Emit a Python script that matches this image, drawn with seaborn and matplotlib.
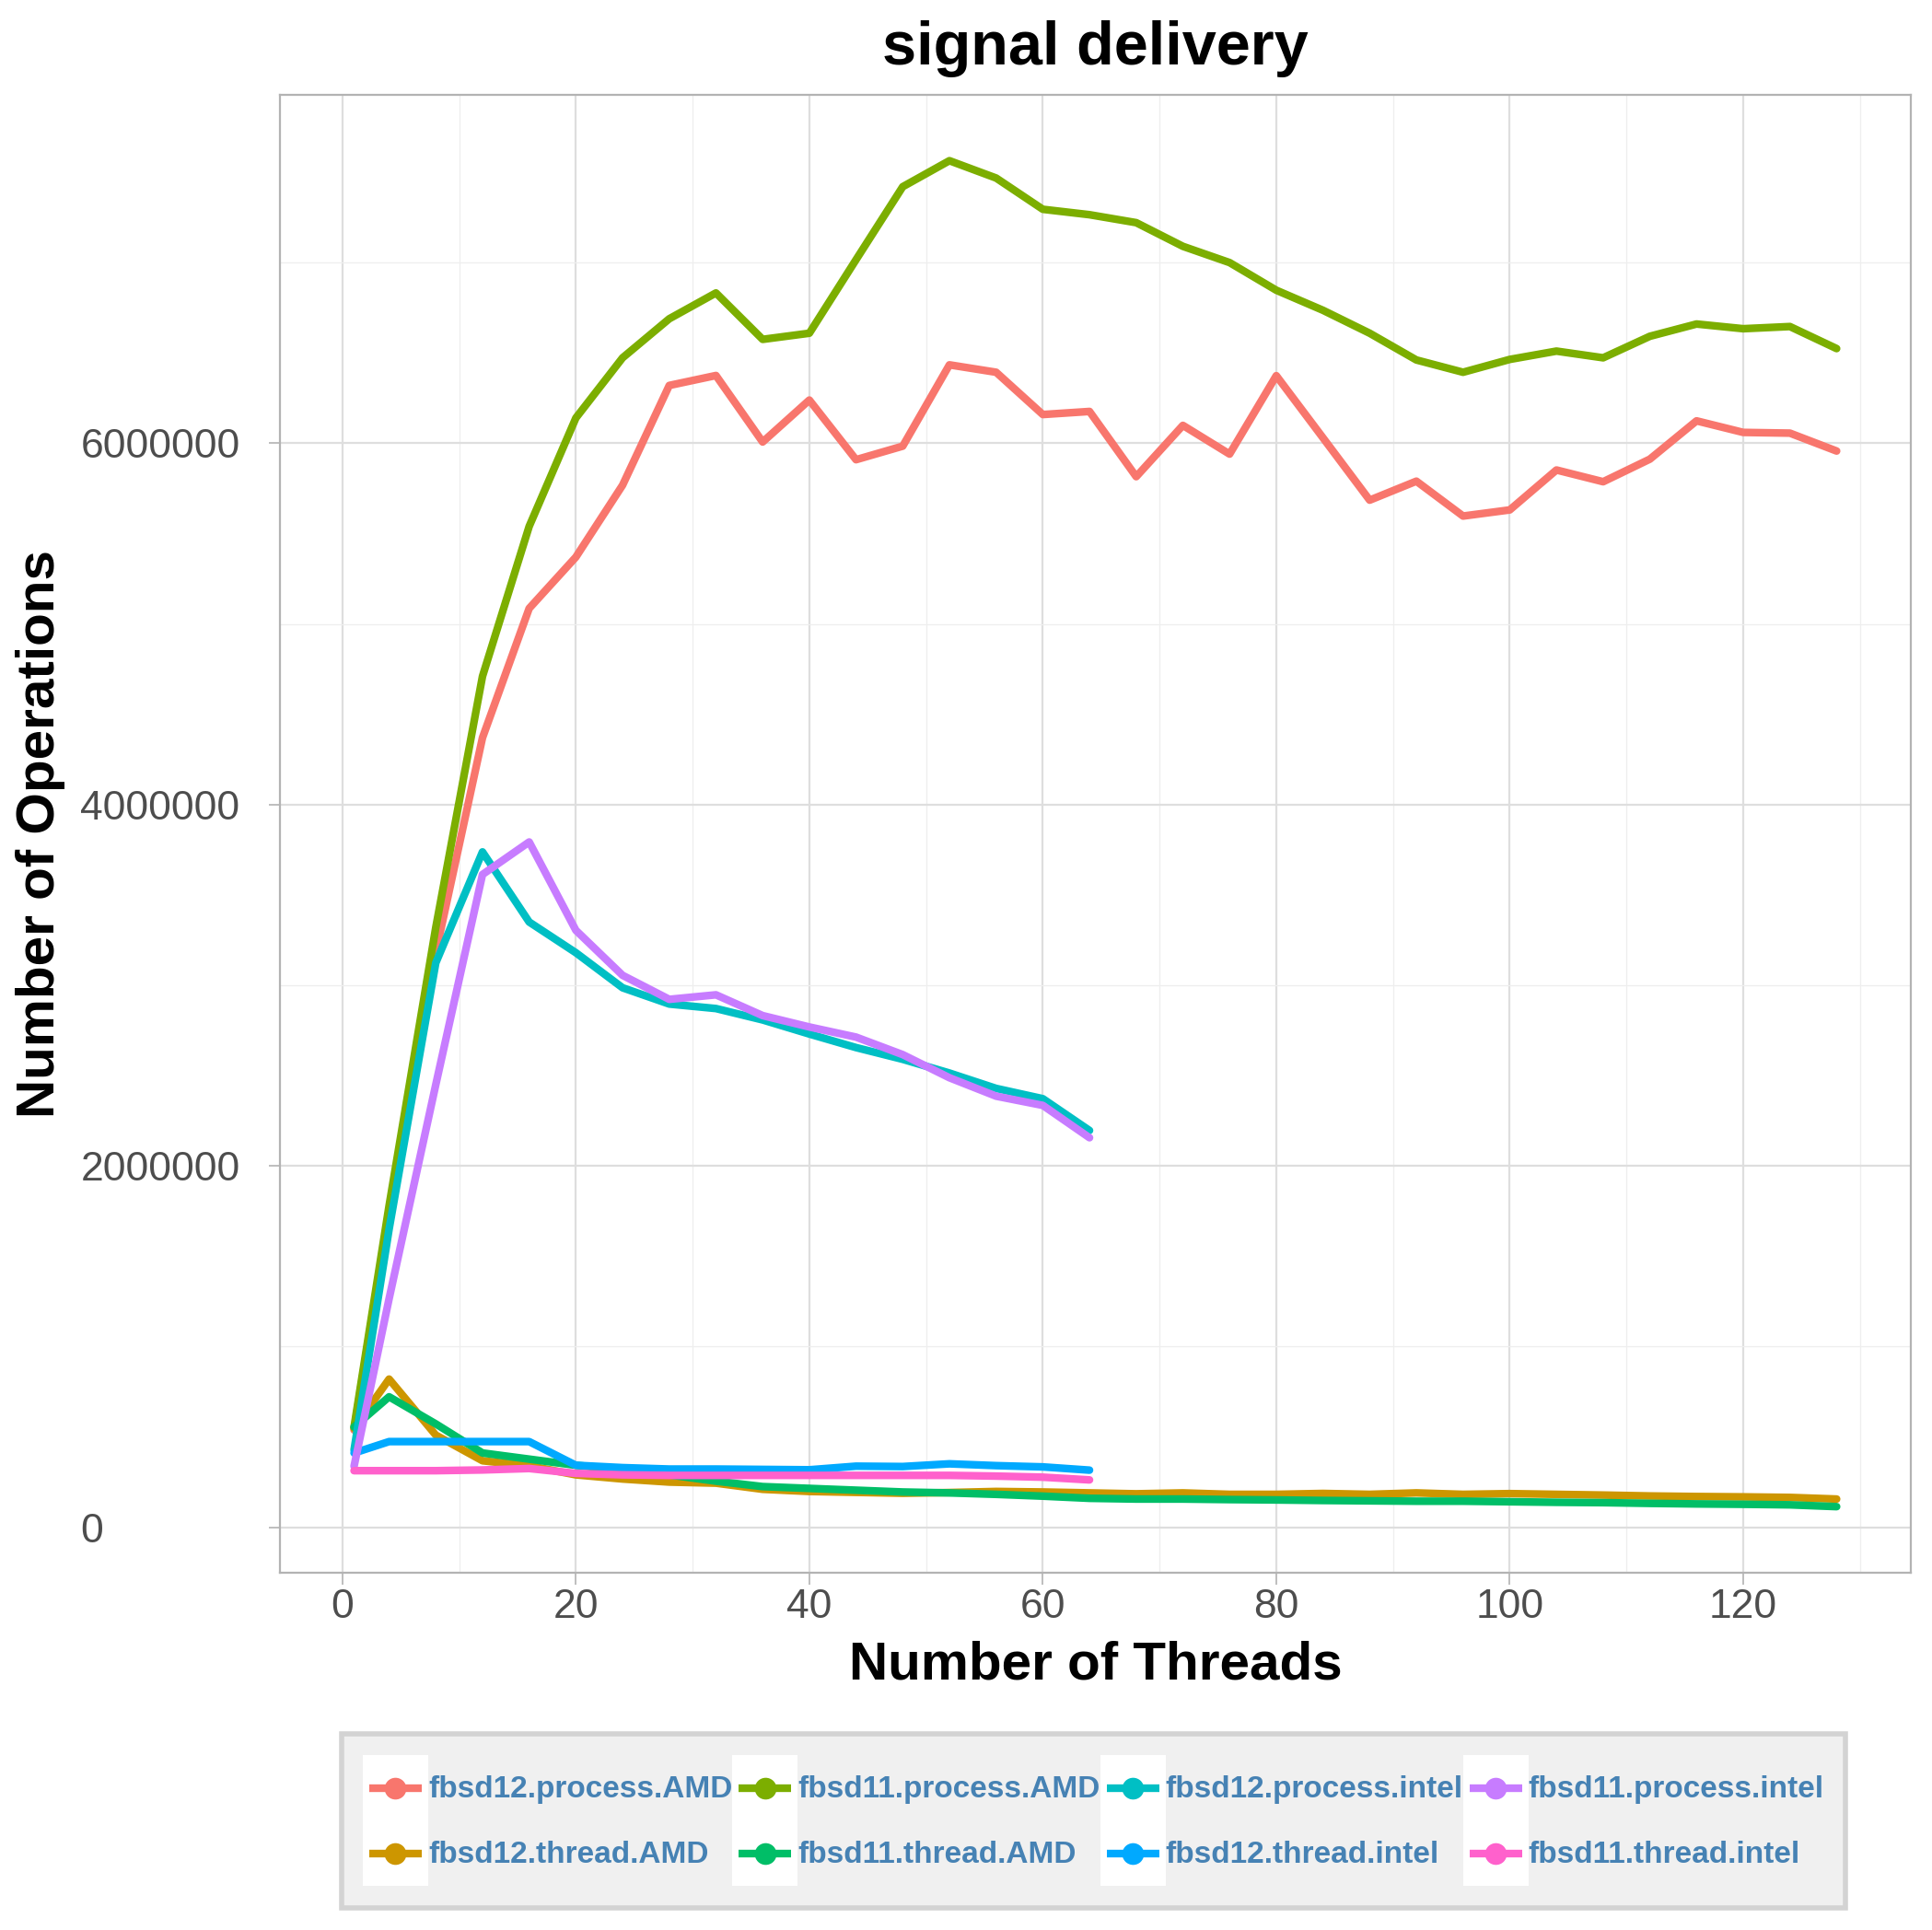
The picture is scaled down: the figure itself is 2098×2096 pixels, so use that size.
import matplotlib
matplotlib.use('Agg')
import matplotlib.pyplot as plt
import seaborn as sns
import pandas as pd
from matplotlib.lines import Line2D
from matplotlib.patches import Rectangle
from matplotlib.legend_handler import HandlerBase
from matplotlib.ticker import MultipleLocator, FuncFormatter

# thread counts used by the two machines
threads_amd = [1, 4, 8, 12, 16, 20, 24, 28, 32, 36, 40, 44, 48, 52, 56, 60, 64,
               68, 72, 76, 80, 84, 88, 92, 96, 100, 104, 108, 112, 116, 120, 124, 128]
threads_intel = [1, 4, 8, 12, 16, 20, 24, 28, 32, 36, 40, 44, 48, 52, 56, 60, 64]

# operations per run
fbsd12_process_amd = [538000, 1750000, 3180000, 4370000, 5086000, 5370000, 5768000, 6320000,
                      6375000, 6007000, 6239000, 5909000, 5984000, 6434000, 6393000, 6159000,
                      6176000, 5815000, 6099000, 5940000, 6374000, 6030000, 5685000, 5790000,
                      5597000, 5631000, 5852000, 5787000, 5912000, 6124000, 6060000, 6056000,
                      5957000]
fbsd11_process_amd = [555000, 1780000, 3320000, 4710000, 5540000, 6140000, 6473000, 6689000,
                      6832000, 6575000, 6609000, 7016000, 7420000, 7564000, 7468000, 7295000,
                      7265000, 7221000, 7090000, 7000000, 6847000, 6736000, 6609000, 6461000,
                      6393000, 6464000, 6510000, 6473000, 6592000, 6660000, 6634000, 6646000,
                      6524000]
fbsd12_thread_amd = [547000, 820000, 510000, 368000, 340000, 290000, 267000, 250000,
                     244000, 210000, 198000, 193000, 188000, 192000, 198000, 195000,
                     190000, 185000, 190000, 182000, 182000, 187000, 182000, 190000,
                     182000, 186000, 182000, 178000, 173000, 170000, 168000, 165000,
                     156000]
fbsd11_thread_amd = [555000, 722000, 572000, 411000, 377000, 343000, 318000, 290000,
                     255000, 225000, 215000, 205000, 195000, 190000, 182000, 172000,
                     160000, 156000, 156000, 153000, 151000, 148000, 146000, 144000,
                     144000, 141000, 138000, 136000, 132000, 129000, 127000, 124000,
                     114000]
fbsd12_process_intel = [428000, 1650000, 3124000, 3738000, 3350000, 3180000, 2986000, 2896000,
                        2871000, 2808000, 2730000, 2655000, 2590000, 2514000, 2429000, 2372000,
                        2196000]
fbsd11_process_intel = [338000, 1265000, 2450000, 3613000, 3793000, 3304000, 3055000, 2922000,
                        2947000, 2832000, 2769000, 2713000, 2616000, 2488000, 2386000, 2335000,
                        2156000]
fbsd12_thread_intel = [411000, 474000, 474000, 474000, 474000, 343000, 330000, 322000,
                       322000, 320000, 318000, 338000, 336000, 351000, 341000, 334000,
                       316000]
fbsd11_thread_intel = [313000, 313000, 313000, 317000, 325000, 298000, 290000, 287000,
                       287000, 287000, 287000, 287000, 287000, 287000, 283000, 277000,
                       262000]

series_order = ['fbsd12.process.AMD', 'fbsd12.thread.AMD',
                'fbsd11.process.AMD', 'fbsd11.thread.AMD',
                'fbsd12.process.intel', 'fbsd12.thread.intel',
                'fbsd11.process.intel', 'fbsd11.thread.intel']
series_palette = {
    'fbsd12.process.AMD': '#F8766D',
    'fbsd12.thread.AMD': '#CD9600',
    'fbsd11.process.AMD': '#7CAE00',
    'fbsd11.thread.AMD': '#00BE67',
    'fbsd12.process.intel': '#00BFC4',
    'fbsd12.thread.intel': '#00A9FF',
    'fbsd11.process.intel': '#C77CFF',
    'fbsd11.thread.intel': '#FF61CC',
}

parts = [
    ('fbsd12.process.AMD', threads_amd, fbsd12_process_amd),
    ('fbsd12.thread.AMD', threads_amd, fbsd12_thread_amd),
    ('fbsd11.process.AMD', threads_amd, fbsd11_process_amd),
    ('fbsd11.thread.AMD', threads_amd, fbsd11_thread_amd),
    ('fbsd12.process.intel', threads_intel, fbsd12_process_intel),
    ('fbsd12.thread.intel', threads_intel, fbsd12_thread_intel),
    ('fbsd11.process.intel', threads_intel, fbsd11_process_intel),
    ('fbsd11.thread.intel', threads_intel, fbsd11_thread_intel),
]
data = pd.concat([pd.DataFrame({'series': name, 'threads': x, 'ops': y}) for name, x, y in parts],
                 ignore_index=True)


class KeyHandler(HandlerBase):
    # ggplot-like legend key: white square, line with a point in the middle
    def create_artists(self, legend, orig_handle, xdescent, ydescent, width, height, fontsize, trans):
        x0, y0 = -xdescent, -ydescent
        yc = y0 + height / 2
        color = orig_handle.get_color()
        bg = Rectangle((x0, y0), width, height, facecolor='white', edgecolor='none', transform=trans)
        ln = Line2D([x0 + 0.1 * width, x0 + 0.9 * width], [yc, yc], color=color,
                    linewidth=3.0, solid_capstyle='butt', transform=trans)
        pt = Line2D([x0 + width / 2], [yc], color=color, marker='o', markersize=7.5,
                    linestyle='none', transform=trans)
        return [bg, ln, pt]


sns.set_theme(style='white')
plt.rcParams['font.family'] = ['Liberation Sans', 'DejaVu Sans']

fig = plt.figure(figsize=(10.49, 10.48), dpi=200)
ax = fig.add_axes([0.1449, 0.1851, 0.8441, 0.7659])

sns.lineplot(
    data=data,
    x='threads',
    y='ops',
    hue='series',
    hue_order=series_order,
    palette=series_palette,
    estimator=None,
    sort=False,
    linewidth=3.0,
    legend=False,
    ax=ax,
)

ax.set_xlim(-5.35, 134.35)
ax.set_ylim(-252000, 7930000)
ax.xaxis.set_major_locator(MultipleLocator(20))
ax.xaxis.set_minor_locator(MultipleLocator(10))
ax.set_yticks([0, 2000000, 4000000, 6000000])
ax.yaxis.set_minor_locator(MultipleLocator(1000000))
ax.yaxis.set_major_formatter(FuncFormatter(lambda v, p: f'{int(round(v))}'))

ax.set_axisbelow(True)
ax.grid(which='major', color='#DEDEDE', linewidth=0.8)
ax.grid(which='minor', color='#EEEEEE', linewidth=0.45)
for sp in ax.spines.values():
    sp.set_visible(True)
    sp.set_color('#B3B3B3')
    sp.set_linewidth(0.8)

ax.tick_params(which='major', length=4.5, width=0.6, color='#B3B3B3',
               labelcolor='#4D4D4D', labelsize=16, bottom=True, left=True)
ax.tick_params(which='minor', length=0)
ax.tick_params(axis='x', pad=1.5)
ax.tick_params(axis='y', pad=73.5)
plt.setp(ax.get_yticklabels(), ha='left')

ax.set_xlabel('Number of Threads', fontsize=21, fontweight='bold', color='black')
ax.set_ylabel('Number of Operations', fontsize=21, fontweight='bold', color='black')
ax.xaxis.label.set_va('center')
ax.yaxis.label.set_va('center')
ax.xaxis.set_label_coords(0.5, -0.0628)
ax.yaxis.set_label_coords(-0.1468, 0.5)
ax.set_title('signal delivery', fontsize=24, fontweight='bold', color='black', pad=11.8)

handles = [Line2D([], [], color=series_palette[name]) for name in series_order]
leg = fig.legend(
    handles, series_order,
    handler_map={Line2D: KeyHandler()},
    ncol=4, loc='center', bbox_to_anchor=(0.566, 0.0566),
    frameon=True, fancybox=False, facecolor='#F0F0F0', edgecolor='#D3D3D3', framealpha=1,
    handlelength=2.13, handleheight=2.9, labelspacing=0, handletextpad=0,
    columnspacing=0, borderpad=0.7,
    prop=dict(family=['Liberation Sans', 'DejaVu Sans'], weight='bold', size=12),
)
leg.get_frame().set_linewidth(2)
for t in leg.get_texts():
    t.set_color('#4682B4')

fig.savefig('out.png', dpi=200)
